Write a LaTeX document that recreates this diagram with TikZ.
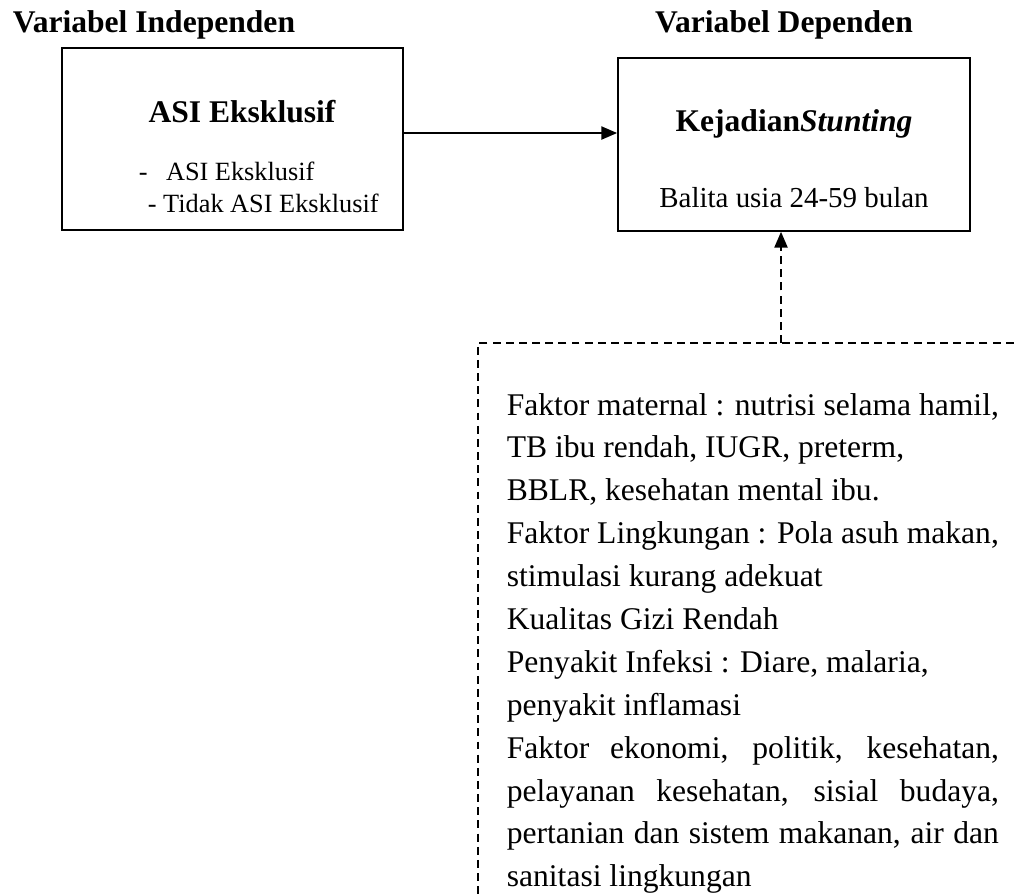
\documentclass[tikz,border=0pt]{standalone}
\usepackage{fontspec}
\setmainfont{Liberation Serif}
\usetikzlibrary{arrows.meta}

\begin{document}
\begin{tikzpicture}[x=0.38pt,y=-0.38pt,>={Triangle[length=6pt,width=5pt]},line width=0.65pt,
  box/.style={draw,rectangle,inner sep=0pt},
  headtext/.style={font=\fontsize{12}{14}\selectfont\bfseries,inner sep=0pt,anchor=base},
  subtext/.style={font=\fontsize{10}{12}\selectfont,inner sep=0pt,anchor=base west},
  dashline/.style={dash pattern=on 3pt off 2pt}]
\useasboundingbox (0,0) rectangle (1015,894);
\clip (0,0) rectangle (1015,894);
% titles
\node[headtext,anchor=base west] (indeptitle) at (12,32) {Variabel Independen};
\node[headtext] (deptitle) at (784,32) {Variabel Dependen};
% boxes
\node[box,minimum width=129.6pt,minimum height=69.2pt] (asibox) at (232.5,139) {};
\node[box,minimum width=133.8pt,minimum height=65.7pt] (stuntbox) at (794,144.5) {};
\node[headtext] (asihead) at (242,122) {ASI Eksklusif};
\node[subtext] (asiyes) at (138,180) {-\hspace{0.7em}ASI Eksklusif};
\node[subtext] (asino) at (147,212) {- Tidak ASI Eksklusif};
\node[headtext] (stunthead) at (794,131) {Kejadian\textit{Stunting}};
\node[subtext,anchor=base,font=\fontsize{11}{13}\selectfont] (balita) at (794,207) {Balita usia 24-59 bulan};
% arrow
\coordinate (arrowlvl) at (0,133);
\draw[->] (asibox.east |- arrowlvl) -- (stuntbox.west |- arrowlvl);
% dashed factors box
\draw[dashline] (1040,343) -| (478,920);
\coordinate (faktortop) at (781,343);
\draw[->,dashline] (faktortop) -- (faktortop |- stuntbox.south);
\node[anchor=base west,inner sep=0pt,text width=187pt,align=justify,
  font=\fontsize{12}{16.3}\selectfont] (faktortext) at (506,415)
  {Faktor maternal : nutrisi selama hamil,\\
   TB ibu rendah, IUGR, preterm,\\
   BBLR, kesehatan mental ibu.\\
   Faktor Lingkungan : Pola asuh makan,\\
   stimulasi kurang adekuat\\
   Kualitas Gizi Rendah\\
   Penyakit Infeksi : Diare, malaria,\\
   penyakit inflamasi\\
   Faktor ekonomi, politik, kesehatan,\linebreak
   pelayanan kesehatan, sisial budaya,\linebreak
   pertanian dan sistem makanan, air dan\linebreak
   sanitasi lingkungan};
\end{tikzpicture}
\end{document}
